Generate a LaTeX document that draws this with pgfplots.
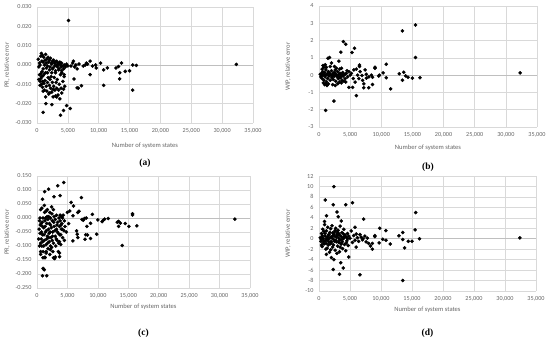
\documentclass[border=0pt]{standalone}
\usepackage{fontspec}
\setmainfont{Carlito}
\newfontfamily\capfont{Liberation Serif}
\usepackage{pgfplots}
\pgfplotsset{compat=1.18}
\definecolor{tickgray}{HTML}{666666}
\definecolor{gridgray}{HTML}{D9D9D9}
\definecolor{zerogray}{HTML}{BFBFBF}
\tikzset{subcap/.style={font=\capfont\bfseries\fontsize{9.5}{10}\selectfont}}
\pgfplotsset{
 panel/.style={
  scale only axis, clip=false,
  xmin=0, xmax=35000, xtick={0,5000,...,35000},
  grid=major, grid style={gridgray, line width=0.6bp},
  axis line style={draw=none},
  major tick length=0pt,
  tick label style={font=\fontsize{6.2}{7}\selectfont, text=tickgray},
  xticklabel style={/pgf/number format/1000 sep={,}, yshift=-2bp},
  yticklabel style={xshift=-2bp},
  /pgf/number format/assume math mode=true,
  scaled ticks=false,
  label style={font=\fontsize{6.6}{8}\selectfont, text=tickgray},
  xlabel={Number of system states},
  extra y ticks={0}, extra y tick labels={},
  extra y tick style={grid style={zerogray, line width=0.7bp}},
 },
 dots/.style={only marks, mark=*, mark size=1.6bp, black, mark options={fill=black, draw=black}},
}
\begin{document}
\begin{tikzpicture}
\useasboundingbox (0bp,0bp) rectangle (550bp,342bp);

% ---------------- (a)
\begin{axis}[panel, at={(37bp,219bp)}, anchor=south west, width=216bp, height=116bp,
  ymin=-0.03, ymax=0.03, ytick={-0.03,-0.02,...,0.031},
  yticklabel style={/pgf/number format/.cd, fixed, fixed zerofill, precision=3},
  ylabel={PR, relative error},
  xlabel style={at={(axis description cs:0.5,-0.198)}, anchor=center},
  ylabel style={at={(axis description cs:-0.139,0.5)}, anchor=center}]
\addplot[dots] table {
x y
5100 0.023
32300 0.0003
1000 -0.0245
1450 -0.020
2400 -0.0205
3800 -0.026
4300 -0.0235
4800 -0.021
5400 -0.0225
3700 -0.0175
6000 -0.0072
6500 -0.0118
6700 -0.012
7200 -0.0107
8600 -0.005
8600 0.002
10800 -0.0105
10800 -0.0025
10300 0.001
11400 -0.0015
12800 -0.0015
13200 -0.0008
13400 -0.004
13400 -0.0072
13700 0.001
14300 -0.0033
15000 -0.003
15500 -0.013
15500 0.0
16100 -0.0002
200 0.003
400 0.001
600 0.0045
700 0.006
800 0.002
900 0.005
1000 0.0015
1100 0.004
1200 0.0
1300 0.0025
1400 0.0055
1500 0.001
1600 0.003
1700 -0.0005
1800 0.004
1900 0.0015
2000 0.0025
2100 -0.001
2200 0.0035
2300 0.001
2400 0.0005
2500 0.002
2600 -0.0015
2700 0.0025
2800 0.001
2900 -0.0005
3000 0.0015
3100 0.0
3200 0.002
3300 -0.001
3400 0.001
3500 0.0005
3600 -0.002
3700 0.0015
3800 0.0
3900 -0.001
4000 0.001
4200 -0.0005
4400 0.0
4600 -0.001
4800 0.0005
5000 -0.0005
300 -0.001
500 0.0
1000 -0.002
1500 -0.0015
2000 -0.0025
2500 -0.002
3000 -0.003
3500 -0.0025
4000 -0.003
4300 -0.002
5500 -0.0005
5800 0.001
5900 0.002
6100 -0.001
6300 0.0
6500 -0.002
6800 0.0005
7500 -0.0005
7800 0.0
8000 0.001
8200 0.0005
9000 -0.0005
9500 0.0
9600 -0.0015
300 -0.0075
500 -0.0085
600 -0.007
700 -0.010
800 -0.006
900 -0.0115
1000 -0.0055
1100 -0.0095
1200 -0.013
1300 -0.008
1400 -0.004
1500 -0.011
1600 -0.0135
1700 -0.009
1800 -0.0065
1900 -0.015
2000 -0.0105
2100 -0.0075
2200 -0.012
2300 -0.006
2400 -0.014
2500 -0.009
2600 -0.0165
2700 -0.011
2800 -0.0065
2900 -0.013
3000 -0.016
3100 -0.009
3200 -0.012
3300 -0.0075
3400 -0.0155
3500 -0.013
3600 -0.010
3800 -0.005
3900 -0.012
4000 -0.0145
4200 -0.0085
4300 -0.0125
4400 -0.006
4500 -0.011
400 -0.005
600 -0.0045
800 -0.0035
1000 -0.0135
1200 -0.0045
500 -0.0105
900 -0.0085
1400 -0.0165
2000 -0.0145
2600 -0.0125
3200 -0.0165
1700 -0.004
2400 -0.004
3000 -0.004
4000 -0.004
4400 -0.005
};
\node[subcap] at (axis description cs:0.5,-0.345) {(a)};
\end{axis}

% ---------------- (b)
\begin{axis}[panel, at={(319bp,215bp)}, anchor=south west, width=218bp, height=121bp,
  ymin=-3, ymax=4, ytick={-3,-2,...,4},
  ylabel={WIP, relative error},
  xlabel style={at={(axis description cs:0.5,-0.174)}, anchor=center},
  ylabel style={at={(axis description cs:-0.142,0.5)}, anchor=center}]
\addplot[dots] table {
x y
1070 -2.04
2400 -1.5
3900 1.94
4300 1.79
3500 1.33
3200 0.81
5700 1.56
5300 1.31
1700 1.02
1450 0.98
650 0.56
13400 2.56
15500 2.9
15500 1.02
6000 -1.19
11500 -0.79
32300 0.13
6500 0.58
6500 0.5
9000 0.46
9000 0.4
10800 0.63
10300 0.13
9700 0.0
10800 -0.15
8000 -0.73
8600 -0.54
7200 -0.73
7200 -0.5
5400 -0.71
4800 -0.71
7400 0.3
8600 -0.12
7600 -0.17
6900 -0.02
12900 0.08
13600 0.17
13400 -0.29
13900 -0.04
14300 -0.12
15000 -0.17
16200 -0.15
200 0.05
300 -0.1
400 0.1
500 -0.2
600 0.2
700 0.0
800 -0.3
900 0.15
1000 -0.1
1100 0.3
1200 -0.4
1300 0.05
1400 -0.2
1500 0.2
1600 -0.05
1700 0.1
1800 -0.3
1900 0.0
2000 0.25
2100 -0.15
2200 0.05
2300 -0.25
2400 0.15
2500 -0.05
2600 0.3
2700 -0.35
2800 0.0
2900 -0.1
3000 0.2
3100 -0.2
3200 0.05
3300 -0.4
3400 0.1
3500 -0.15
3600 0.0
3700 -0.3
3800 0.15
3900 -0.05
4000 0.05
4200 -0.2
4400 0.1
4600 -0.1
4800 0.2
5000 0.0
500 0.35
700 -0.45
900 -0.55
1000 0.6
1200 0.45
1300 -0.6
1500 -0.5
1800 0.5
2000 0.7
2200 -0.55
2500 0.5
2600 -0.6
2800 0.4
3000 -0.5
3300 0.35
3600 -0.45
4000 -0.35
4300 -0.4
4500 0.25
3600 0.4
1100 -0.5
800 0.45
400 -0.05
600 0.05
1000 0.0
1400 0.1
1800 0.05
2200 -0.05
2600 0.1
3000 -0.05
3400 -0.1
3800 0.0
4200 0.05
5200 0.1
5500 -0.2
5600 0.3
5800 -0.4
6000 0.35
6200 0.0
6400 -0.2
6600 0.2
7000 -0.3
7600 0.05
8000 -0.1
8400 0.0
9600 -0.05
};
\node[subcap] at (axis description cs:0.5,-0.33) {(b)};
\end{axis}

% ---------------- (c)
\begin{axis}[panel, at={(37bp,54bp)}, anchor=south west, width=213bp, height=112bp,
  ymin=-0.25, ymax=0.15, ytick={-0.25,-0.2,...,0.151},
  yticklabel style={/pgf/number format/.cd, fixed, fixed zerofill, precision=3},
  ylabel={PR, relative error},
  xlabel style={at={(axis description cs:0.5,-0.17)}, anchor=center},
  ylabel style={at={(axis description cs:-0.141,0.5)}, anchor=center}]
\addplot[dots] table {
x y
4400 0.127
3400 0.115
1900 0.103
1260 0.094
900 0.067
2800 0.076
3800 0.080
7300 0.073
5600 0.056
6000 0.043
6900 0.024
6700 0.020
5900 0.008
9100 0.013
15700 0.015
15700 0.011
32500 -0.004
13200 -0.015
13400 -0.012
13400 -0.030
13700 -0.018
14000 -0.098
14500 -0.020
15100 -0.030
16400 -0.028
11700 -0.002
11100 -0.004
10700 -0.013
10900 -0.008
9800 -0.058
10000 -0.007
8800 -0.019
8200 -0.030
8800 -0.073
7900 -0.076
8300 -0.061
8000 -0.060
5900 -0.082
6700 -0.070
6600 -0.058
6500 -0.046
7400 -0.005
7800 -0.002
7600 -0.008
8100 0.0
900 -0.206
1600 -0.206
1000 -0.180
1200 -0.185
1100 -0.183
600 -0.120
1000 -0.142
1300 -0.142
1500 -0.120
2700 -0.142
3000 -0.139
3700 -0.138
3700 -0.125
2200 -0.113
300 -0.075
400 -0.010
500 -0.055
600 0.030
600 -0.090
700 -0.020
800 0.035
800 -0.100
900 -0.060
1000 0.000
1000 -0.120
1100 -0.035
1200 0.045
1200 -0.080
1300 -0.010
1300 -0.140
1400 -0.050
1500 0.025
1500 -0.095
1600 -0.020
1700 0.030
1700 -0.065
1800 -0.110
1900 0.005
1900 -0.040
2000 -0.085
2100 0.020
2100 -0.130
2200 -0.025
2300 -0.070
2400 0.040
2400 -0.105
2500 -0.010
2600 -0.050
2600 -0.120
2700 0.030
2700 -0.090
2800 -0.030
2900 -0.145
3000 -0.005
3000 -0.065
3100 -0.100
3200 0.010
3200 -0.040
3300 -0.080
3400 -0.015
3500 -0.120
3500 -0.055
3600 0.000
3700 -0.030
3700 -0.085
3800 -0.010
3900 -0.060
4000 0.005
4000 -0.040
4100 -0.020
4200 -0.070
4300 0.010
4400 -0.045
4500 -0.010
4600 -0.030
4800 -0.050
5000 0.020
5200 -0.020
5400 0.025
400 -0.100
500 0.000
700 -0.075
900 -0.030
1100 -0.100
1400 0.000
1600 -0.075
1800 -0.005
2000 -0.055
2200 0.000
2500 -0.080
2800 0.005
3300 -0.025
3900 -0.095
4500 -0.080
600 -0.130
2200 -0.100
1500 -0.125
3800 0.010
4200 0.000
350 -0.040
550 -0.025
750 -0.050
950 -0.085
1150 -0.060
1350 -0.030
1550 -0.045
1750 -0.090
1950 -0.070
2150 -0.050
2350 -0.035
2550 -0.065
2750 -0.015
2950 -0.045
3150 -0.075
3350 -0.050
3550 -0.090
3750 -0.060
3950 -0.025
4150 -0.040
850 -0.015
1250 0.020
1650 0.005
2050 -0.020
2450 0.015
};
\node[subcap] at (axis description cs:0.5,-0.40) {(c)};
\end{axis}

% ---------------- (d)
\begin{axis}[panel, at={(319bp,51bp)}, anchor=south west, width=217bp, height=115bp,
  ymin=-10, ymax=12, ytick={-10,-8,...,12},
  ylabel={WIP, relative error},
  xlabel style={at={(axis description cs:0.5,-0.165)}, anchor=center},
  ylabel style={at={(axis description cs:-0.143,0.5)}, anchor=center}]
\addplot[dots] table {
x y
2400 9.96
1000 7.4
2300 6.5
4300 6.5
5400 6.9
2900 5.1
3100 4.2
1200 4.4
3600 3.4
7200 3.75
15600 5.0
15500 1.7
5800 2.2
9800 2.0
10800 1.55
9000 0.6
9000 0.4
13500 1.2
12900 0.55
13500 -0.15
13800 -1.75
14400 -0.5
15000 -0.5
16200 0.0
13500 -8.0
32400 0.15
6600 -6.9
3300 -6.8
2300 -5.9
3900 -5.6
3500 -4.6
2400 -4.0
1200 -3.0
2000 -3.6
4800 -3.5
6000 -1.6
8600 -2.0
9700 -0.8
11500 -1.0
10300 -0.1
10800 -0.3
7100 0.0
200 0.2
300 -0.5
400 1.0
500 -1.5
600 1.8
700 0.0
800 -1.0
900 2.7
900 3.3
1000 0.5
1100 -2.0
1200 1.5
1300 -0.3
1400 2.2
1500 -1.2
1600 0.8
1700 -2.6
1800 0.2
1900 1.9
2000 -0.8
2100 2.5
2200 -1.6
2300 0.6
2400 -0.2
2500 1.3
2600 -2.2
2700 2.0
2800 -0.6
2900 0.9
3000 -1.4
3100 1.6
3200 0.1
3300 -2.5
3400 2.4
3500 -0.9
3600 0.4
3700 1.2
3800 -1.9
3900 0.0
4000 1.8
4100 -1.1
4200 0.7
4300 -2.3
4400 0.3
4500 -0.4
4600 1.0
4700 -1.3
4800 0.5
5000 0.1
5200 1.5
5400 -0.7
5600 0.6
5800 -0.3
6000 0.9
6200 0.2
6400 -0.5
6600 0.8
6800 0.3
7000 -0.2
7400 0.5
7600 -0.6
7800 0.1
8000 -0.9
8300 -1.4
8600 -0.9
500 0.3
700 -0.8
1000 -0.4
1200 0.0
1500 0.7
1800 -1.0
2000 0.4
2200 1.1
2500 -0.5
2800 0.3
3000 0.6
3300 -0.3
3600 -1.0
4000 0.2
4400 -0.8
800 1.4
1300 -1.8
2600 1.6
3400 -1.6
400 -1.2
1600 -0.6
2400 0.9
3200 1.0
4600 0.0
2900 -2.8
1900 -2.1
350 -0.2
550 0.6
750 -0.4
950 1.0
1150 -0.9
1350 0.3
1550 -0.1
1750 1.2
1950 -0.5
2150 0.1
2350 -1.2
2550 0.5
2750 -0.3
2950 1.3
3150 -0.7
3350 0.7
3550 -0.2
3750 -0.6
3950 0.9
4150 0.4
};
\node[subcap] at (axis description cs:0.5,-0.365) {(d)};
\end{axis}
\end{tikzpicture}
\end{document}
